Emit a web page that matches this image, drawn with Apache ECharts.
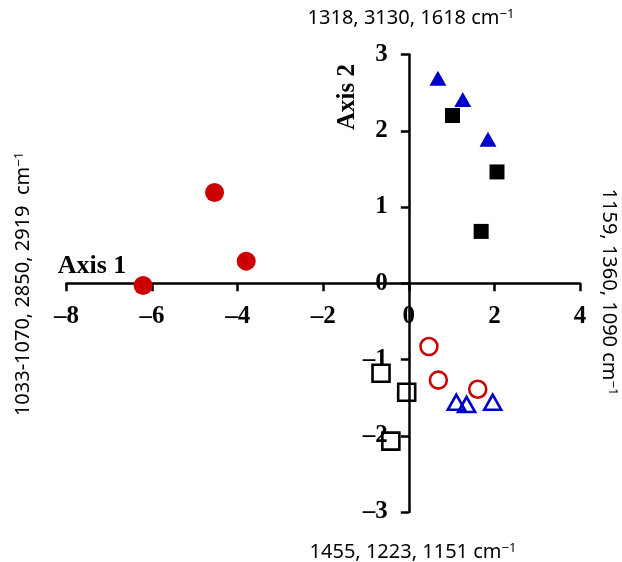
<!DOCTYPE html>
<html>
<head>
<meta charset="utf-8">
<script src="https://cdn.jsdelivr.net/npm/echarts@6/dist/echarts.min.js"></script>
<style>
html,body{margin:0;padding:0;background:#fff;}
#c{width:622px;height:562px;}
</style>
</head>
<body>
<div id="c"></div>
<script>
// ---- data ----
const xTicks = { min: -8, max: 4, interval: 2 };
const yTicks = { min: -3, max: 3, interval: 1 };

const redFilled   = [[-6.21, -0.03], [-4.54, 1.19], [-3.80, 0.29]];
const blueFilled  = [[0.68, 2.69], [1.26, 2.41], [1.85, 1.89]];
const blackFilled = [[1.02, 2.20], [2.06, 1.46], [1.69, 0.68]];
const redOpen     = [[0.47, -0.83], [0.69, -1.27], [1.61, -1.39]];
const blueOpen    = [[1.11, -1.56], [1.35, -1.59], [1.96, -1.56]];
const blackOpen   = [[-0.65, -1.18], [-0.05, -1.43], [-0.42, -2.07]];

const axis1Name = 'Axis 1';
const axis2Name = 'Axis 2';
const topText    = '1318, 3130, 1618 cm';
const bottomText = '1455, 1223, 1151 cm';
const leftText   = '1033-1070, 2850, 2919  cm';
const rightText  = '1159, 1360, 1090 cm';
const supText    = '\u22121';

// ---- chart ----
const W = 622, H = 562;
const G = { left: 66.5, right: 42, top: 54.5, bottom: 50 };
const gw = W - G.left - G.right, gh = H - G.top - G.bottom;
// move the axes so they cross at zero
const yAxisOffset = -gw * (0 - xTicks.min) / (xTicks.max - xTicks.min);
const xAxisOffset = -gh * (0 - yTicks.min) / (yTicks.max - yTicks.min);

const RED = '#cc0000', BLUE = '#0000cc', BLACK = '#000000';
const serif = 'Liberation Serif, Times New Roman, serif';
const sans = 'Noto Sans, Open Sans, sans-serif';
const fmt = v => String(v).replace('-', '\u2013');

const axisCommon = {
  type: 'value',
  splitLine: { show: false },
  axisLine: { onZero: false, lineStyle: { color: BLACK, width: 2.5 } },
  axisTick: { show: true, length: 8, lineStyle: { color: BLACK, width: 2.5 } },
  axisLabel: { color: BLACK, fontFamily: serif, fontWeight: 'bold', fontSize: 25, formatter: fmt }
};

function sideText(text, x, y, rotation) {
  return {
    type: 'text', x, y, rotation,
    style: {
      text: text + '{s|' + supText + '}',
      fontFamily: sans, fontSize: 20, fill: BLACK,
      align: 'center', verticalAlign: 'middle',
      rich: { s: { fontFamily: sans, fontSize: 13, fill: BLACK, verticalAlign: 'top' } }
    }
  };
}

function sc(data, symbol, size, filled, color) {
  return {
    type: 'scatter', data, symbol, symbolSize: size,
    itemStyle: filled
      ? { color: color, opacity: 1 }
      : { color: 'rgba(0,0,0,0)', borderColor: color, borderWidth: 2.6, opacity: 1 },
    emphasis: { disabled: true }
  };
}

const chart = echarts.init(document.getElementById('c'));
chart.setOption({
  animation: false,
  backgroundColor: '#fff',
  grid: { left: G.left, right: G.right, top: G.top, bottom: G.bottom, containLabel: false },
  xAxis: Object.assign({}, axisCommon, {
    position: 'bottom', offset: xAxisOffset,
    min: xTicks.min, max: xTicks.max, interval: xTicks.interval,
    axisLabel: Object.assign({}, axisCommon.axisLabel, { margin: 21 })
  }),
  yAxis: Object.assign({}, axisCommon, {
    position: 'left', offset: yAxisOffset,
    min: yTicks.min, max: yTicks.max, interval: yTicks.interval,
    axisLabel: Object.assign({}, axisCommon.axisLabel, { margin: 21 })
  }),
  series: [
    sc(redFilled, 'circle', 19, true, RED),
    sc(blueFilled, 'triangle', [17, 15], true, BLUE),
    sc(blackFilled, 'rect', 15, true, BLACK),
    sc(redOpen, 'circle', 17, false, RED),
    sc(blueOpen, 'triangle', [17, 15], false, BLUE),
    sc(blackOpen, 'rect', 17, false, BLACK)
  ],
  graphic: [
    { type: 'text', x: 92, y: 266,
      style: { text: axis1Name, fontFamily: serif, fontWeight: 'bold', fontSize: 26, fill: BLACK, align: 'center', verticalAlign: 'middle' } },
    { type: 'text', x: 348, y: 97, rotation: Math.PI / 2,
      style: { text: axis2Name, fontFamily: serif, fontWeight: 'bold', fontSize: 25, fill: BLACK, align: 'center', verticalAlign: 'middle' } },
    sideText(topText, 411, 18, 0),
    sideText(bottomText, 413, 552, 0),
    sideText(leftText, 23, 284, Math.PI / 2),
    sideText(rightText, 609, 292, -Math.PI / 2)
  ]
});
</script>
</body>
</html>
